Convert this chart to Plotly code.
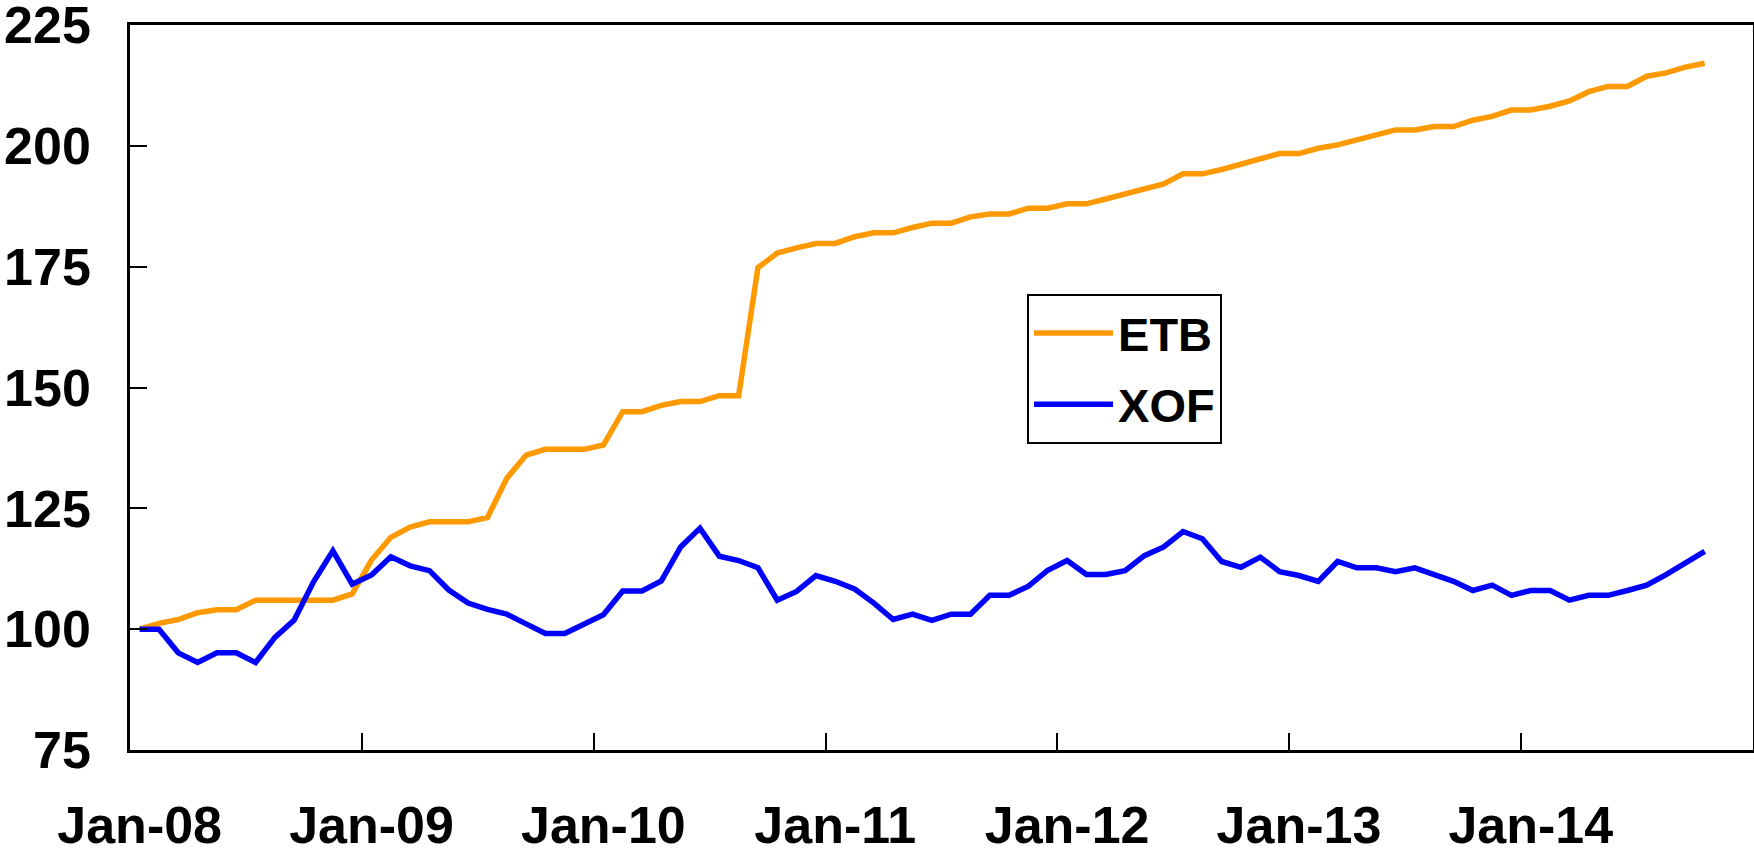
import plotly.graph_objects as go

# Monthly index values, Jan-2008 .. Oct-2014 (Jan-2008 = 100)
etb = [100, 101.2, 102, 103.4, 104, 104, 106, 106, 106, 106, 106, 107.3,
       114.3, 119, 121.1, 122.2, 122.2, 122.2, 123.1, 131.2, 136, 137.2, 137.2, 137.2,
       138.1, 145, 145, 146.3, 147.1, 147.1, 148.3, 148.3, 174.8, 177.8, 178.9, 179.8,
       179.8, 181.2, 182, 182, 183.1, 184, 184, 185.3, 185.9, 185.9, 187.1, 187.1,
       188, 188, 189, 190.1, 191.1, 192.1, 194.2, 194.2, 195.1, 196.2, 197.2, 198.4,
       198.4, 199.5, 200.2, 201.2, 202.2, 203.3, 203.3, 204, 204, 205.3, 206.1, 207.4,
       207.4, 208.2, 209.3, 211.2, 212.3, 212.3, 214.4, 215.1, 216.3, 217.1]
xof = [100, 100, 95.1, 93.1, 95.1, 95.1, 93.1, 98.3, 101.9, 109.8, 116.2, 109.3,
       111.2, 115, 113.1, 112.1, 108.1, 105.4, 104.1, 103.1, 101.1, 99.1, 99.1, 101.1,
       103, 107.9, 107.9, 110, 117, 120.9, 115.1, 114.2, 112.7, 106, 107.8, 111.1,
       109.9, 108.3, 105.4, 102, 103.1, 101.8, 103.1, 103.1, 107, 107, 108.9, 112.2,
       114.2, 111.3, 111.3, 112.1, 115.2, 117, 120.2, 118.7, 114, 112.8, 114.9, 111.9,
       111.1, 109.9, 114, 112.7, 112.7, 111.9, 112.7, 111.3, 109.9, 108, 109.1, 107,
       108, 108, 106, 107, 107, 108, 109.1, 111.3, 113.8, 116.1]
month_index = list(range(len(etb)))

tick_labels = ["Jan-08", "Jan-09", "Jan-10", "Jan-11", "Jan-12", "Jan-13", "Jan-14"]
tick_months = [0, 12, 24, 36, 48, 60, 72]
boundary_months = [11.5, 23.5, 35.5, 47.5, 59.5, 71.5]
n_categories = 84
y_ticks = [75, 100, 125, 150, 175, 200, 225]

FONT = "Liberation Sans, Arial, sans-serif"

fig = go.Figure()
fig.add_trace(go.Scatter(x=month_index, y=etb, mode="lines", name="ETB",
                         legendgroup="a",
                         line=dict(color="#FF9900", width=5.5)))
fig.add_trace(go.Scatter(x=month_index, y=xof, mode="lines", name="XOF",
                         legendgroup="b",
                         line=dict(color="#0000FF", width=5.5)))
# helper so the boundary tick axis is drawn
fig.add_trace(go.Scatter(x=[None], y=[None], xaxis="x2", yaxis="y", showlegend=False,
                         hoverinfo="skip"))

xrange = [-0.5, n_categories - 0.5]
fig.update_layout(
    width=1754, height=853,
    margin=dict(l=130, r=1, t=25, b=103, autoexpand=False),
    paper_bgcolor="white", plot_bgcolor="white",
    font=dict(family=FONT, color="black"),
    xaxis=dict(range=xrange, tickmode="array", tickvals=tick_months, ticktext=tick_labels,
               ticks="", showgrid=False, zeroline=False, showline=True, linecolor="black",
               linewidth=2.5, mirror=True, ticklabelstandoff=28, automargin=False,
               ticklabeloverflow="allow",
               tickfont=dict(family=FONT, size=52, weight="bold", color="black")),
    xaxis2=dict(range=xrange, overlaying="x", anchor="y", side="bottom",
                tickmode="array", tickvals=boundary_months, ticks="inside", ticklen=17,
                tickwidth=2, tickcolor="black", showticklabels=False, showgrid=False,
                zeroline=False, showline=False, automargin=False),
    yaxis=dict(range=[75, 225], tickmode="array", tickvals=y_ticks, ticks="inside",
               ticklen=17, tickwidth=2, tickcolor="black", showgrid=False, zeroline=False,
               showline=True, linecolor="black", linewidth=2.5, mirror=True,
               ticklabelstandoff=26, ticklabeloverflow="allow", automargin=False,
               tickfont=dict(family=FONT, size=52, weight="bold", color="black")),
    legend=dict(x=0.5527, y=0.629, xanchor="left", yanchor="top",
                bordercolor="black", borderwidth=2, bgcolor="white",
                font=dict(family=FONT, size=47, weight="bold", color="black"),
                tracegroupgap=7, itemwidth=79),
    showlegend=True,
)

fig.write_html("out.html", config={"displayModeBar": False},
               post_script="document.body.style.margin='0';")
